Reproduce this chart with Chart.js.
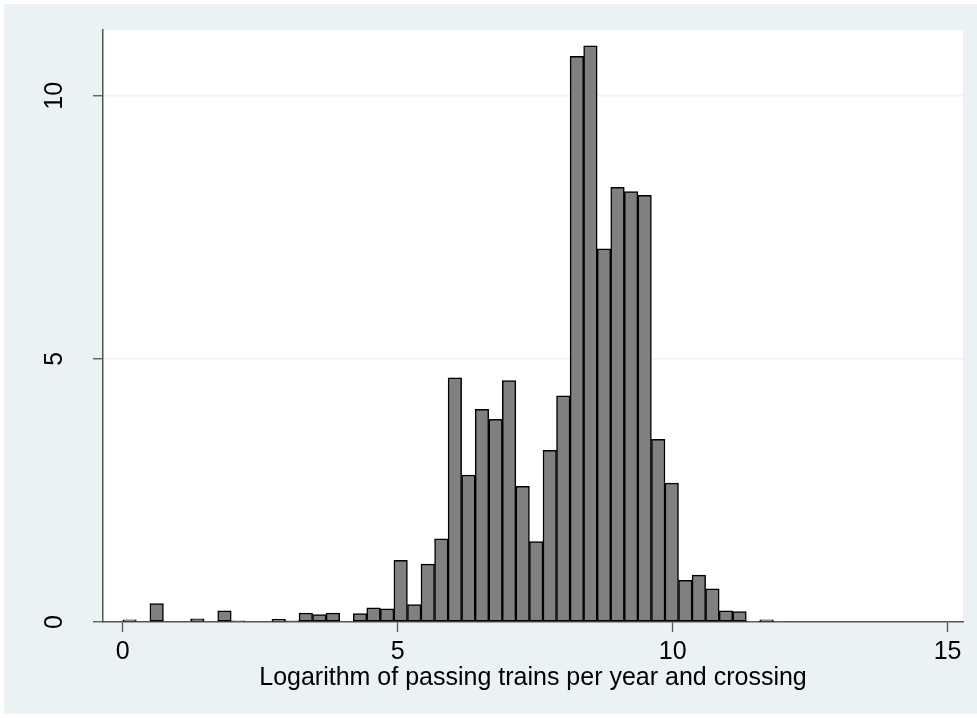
<!DOCTYPE html>
<html>
<head>
<meta charset="utf-8">
<script src="https://cdn.jsdelivr.net/npm/chart.js@4/dist/chart.umd.min.js"></script>
<style>
  body { margin: 0; background: #fff; }
  #wrap { width: 977px; height: 718px; }
</style>
</head>
<body>
<div id="wrap"><canvas id="hist" width="977" height="718"></canvas></div>
<script>
// bin midpoints (log trains per year) and density per bin
let binMids = [0.123, 0.370, 0.616, 0.863, 1.109, 1.356, 1.602, 1.849, 2.095, 2.342,
  2.588, 2.835, 3.081, 3.328, 3.574, 3.821, 4.067, 4.314, 4.560, 4.807,
  5.053, 5.300, 5.546, 5.793, 6.039, 6.286, 6.532, 6.779, 7.025, 7.272,
  7.518, 7.765, 8.011, 8.258, 8.504, 8.751, 8.997, 9.244, 9.490, 9.737,
  9.983, 10.230, 10.476, 10.723, 10.969, 11.216, 11.462, 11.709, 11.955];
let density = [0.04, 0, 0.35, 0, 0, 0.06, 0, 0.21, 0.02, 0,
  0, 0.05, 0.02, 0.17, 0.14, 0.17, 0, 0.16, 0.27, 0.25,
  1.17, 0.33, 1.10, 1.58, 4.64, 2.79, 4.04, 3.85, 4.59, 2.58,
  1.53, 3.26, 4.30, 10.75, 10.95, 7.09, 8.26, 8.18, 8.11, 3.47,
  2.64, 0.79, 0.89, 0.63, 0.21, 0.20, 0.01, 0.04, 0.015];
let xTicks = [0, 5, 10, 15];
let yTicks = [0, 5, 10];
let xTitle = "Logarithm of passing trains per year and crossing";

const FONT = "'Liberation Sans', Arial, sans-serif";
const BG = "#EAF2F3";
const AXIS = "#555555";

// stata-like background: light frame, white plot region
const background = {
  id: "background",
  beforeDraw(chart) {
    const {ctx, chartArea: a} = chart;
    ctx.save();
    ctx.fillStyle = "#ffffff";
    ctx.fillRect(0, 0, chart.width, chart.height);
    ctx.fillStyle = BG;
    ctx.fillRect(4, 4, chart.width - 4, chart.height - 8);
    ctx.fillStyle = "#ffffff";
    ctx.fillRect(a.left, a.top, a.right - a.left, a.bottom - a.top);
    ctx.restore();
  }
};

// vertical y tick labels, reading bottom to top
const yLabels = {
  id: "yLabels",
  afterDraw(chart) {
    const {ctx} = chart;
    const y = chart.scales.y;
    ctx.save();
    ctx.font = "25px " + FONT;
    ctx.fillStyle = "#000";
    ctx.textAlign = "center";
    ctx.textBaseline = "middle";
    y.ticks.forEach(t => {
      ctx.save();
      ctx.translate(55, y.getPixelForValue(t.value));
      ctx.rotate(-Math.PI / 2);
      ctx.fillText(String(t.value), 0, 0);
      ctx.restore();
    });
    ctx.restore();
  }
};

new Chart("hist", {
  type: "bar",
  data: {
    datasets: [{
      data: binMids.map((m, i) => ({x: m, y: density[i]})),
      backgroundColor: "#808080",
      borderColor: "#000000",
      borderWidth: 1.5,
      borderSkipped: false,
      barPercentage: 1,
      categoryPercentage: 1
    }]
  },
  options: {
    responsive: false,
    animation: false,
    layout: { padding: { top: 30, right: 14, left: 0, bottom: 0 } },
    plugins: {
      legend: { display: false },
      tooltip: { enabled: false }
    },
    scales: {
      x: {
        type: "linear",
        offset: false,
        min: -0.36,
        max: 15.28,
        afterBuildTicks: (s) => { s.ticks = xTicks.map(v => ({value: v})); },
        afterFit: (s) => { s.height = 96; },
        grid: { offset: false, drawOnChartArea: false, tickLength: 10, tickColor: AXIS, tickWidth: 1.3 },
        border: { display: true, color: AXIS, width: 1.5 },
        ticks: { font: { size: 25, family: FONT }, color: "#000", padding: 5, maxRotation: 0 },
        title: {
          display: true,
          text: xTitle,
          font: { size: 25, family: FONT },
          color: "#000",
          padding: { top: 0, bottom: 25 }
        }
      },
      y: {
        min: 0,
        max: 11.25,
        afterBuildTicks: (s) => { s.ticks = yTicks.map(v => ({value: v})); },
        afterFit: (s) => { s.width = 103; },
        grid: {
          color: (c) => c.tick && c.tick.value === 0 ? "rgba(0,0,0,0)" : BG,
          lineWidth: 1.5,
          tickLength: 10,
          tickColor: AXIS,
          tickWidth: 1.3
        },
        border: { display: true, color: AXIS, width: 1.5 },
        ticks: { display: false }
      }
    }
  },
  plugins: [background, yLabels]
});
</script>
</body>
</html>
